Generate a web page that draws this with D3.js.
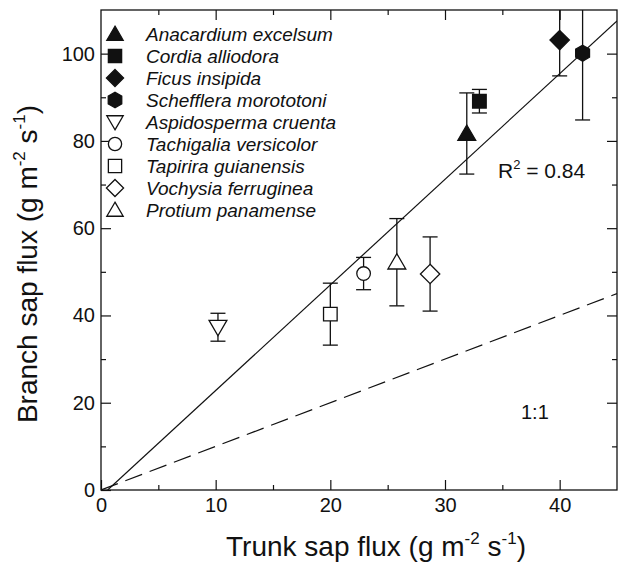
<!DOCTYPE html>
<html><head><meta charset="utf-8">
<script src="https://cdn.jsdelivr.net/npm/d3@7"></script>
<style>body{margin:0;background:#fff}svg{display:block}text{font-family:"Liberation Sans",Arial,sans-serif;fill:#111}</style>
</head><body>
<svg id="c" width="620" height="562"></svg>
<script>
const species = ["Anacardium excelsum","Cordia alliodora","Ficus insipida","Schefflera morototoni","Aspidosperma cruenta","Tachigalia versicolor","Tapirira guianensis","Vochysia ferruginea","Protium panamense"];
const shapes = ["triangle","square","diamond","hexagon","triangleDown","circle","square","diamond","triangle"];
const filled = [true,true,true,true,false,false,false,false,false];
const trunkFlux = [31.9,33.0,40.0,42.0,10.2,22.9,20.0,28.7,25.8];
const branchFlux = [81.7,89.1,103.1,100.1,37.3,49.6,40.3,49.5,52.2];
const branchErr = [9.3,2.7,8.2,15.3,3.2,3.7,7.1,8.5,10.0];
const xTicks = [0,10,20,30,40];
const yTicks = [0,20,40,60,80,100];
const fitSlope = 2.42, fitIntercept = -1.4;

const svg = d3.select("#c");
const L=101,R=617,T=10,B=490;
const x = d3.scaleLinear().domain([0,45]).range([L,R]);
const y = d3.scaleLinear().domain([0,110]).range([B,T]);

const defs = svg.append("defs");
defs.append("clipPath").attr("id","clip").append("rect").attr("x",L).attr("y",T).attr("width",R-L).attr("height",B-T);

function shapePath(s, r){
  if(s==="triangle") return `M0,${-r}L${r*1.05},${r*0.8}L${-r*1.05},${r*0.8}Z`;
  if(s==="triangleDown") return `M0,${r}L${r*1.05},${-r*0.8}L${-r*1.05},${-r*0.8}Z`;
  if(s==="square") return `M${-r*0.85},${-r*0.85}H${r*0.85}V${r*0.85}H${-r*0.85}Z`;
  if(s==="diamond") return `M0,${-r*1.1}L${r*1.1},0L0,${r*1.1}L${-r*1.1},0Z`;
  if(s==="circle") return d3.arc()({innerRadius:0,outerRadius:r*0.85,startAngle:0,endAngle:2*Math.PI});
  if(s==="hexagon"){ let p=[]; for(let i=0;i<6;i++){const a=Math.PI/2+i*Math.PI/3; p.push([Math.cos(a)*r*1.0, Math.sin(a)*r*1.0]);} return "M"+p.map(q=>q.join(",")).join("L")+"Z";}
}

// axes
const axG = svg.append("g").attr("class","axes");
function styleAxis(g){ g.select(".domain").remove(); g.selectAll("line").attr("stroke","#111").attr("stroke-width",1.2); g.selectAll("text").style("font-size","20px").attr("fill","#111"); }
axG.append("g").attr("transform",`translate(0,${B})`).call(d3.axisBottom(x).tickValues(xTicks).tickSize(-10).tickPadding(8).tickFormat(d3.format("d"))).call(styleAxis);
axG.append("g").attr("transform",`translate(0,${B})`).call(d3.axisBottom(x).tickValues([5,15,25,35]).tickSize(-5).tickFormat("")).call(styleAxis);
axG.append("g").attr("transform",`translate(0,${T})`).call(d3.axisTop(x).tickValues(xTicks.slice(1)).tickSize(-10).tickFormat("")).call(styleAxis);
axG.append("g").attr("transform",`translate(0,${T})`).call(d3.axisTop(x).tickValues([5,15,25,35]).tickSize(-5).tickFormat("")).call(styleAxis);
axG.append("g").attr("transform",`translate(${L},0)`).call(d3.axisLeft(y).tickValues(yTicks).tickSize(-10).tickPadding(6).tickFormat(d3.format("d"))).call(styleAxis);
axG.append("g").attr("transform",`translate(${L},0)`).call(d3.axisLeft(y).tickValues([10,30,50,70,90]).tickSize(-5).tickFormat("")).call(styleAxis);
axG.append("g").attr("transform",`translate(${R},0)`).call(d3.axisRight(y).tickValues(yTicks.slice(1)).tickSize(-10).tickFormat("")).call(styleAxis);
axG.append("g").attr("transform",`translate(${R},0)`).call(d3.axisRight(y).tickValues([10,30,50,70,90]).tickSize(-5).tickFormat("")).call(styleAxis);
svg.append("rect").attr("x",L).attr("y",T).attr("width",R-L).attr("height",B-T).attr("fill","none").attr("stroke","#111").attr("stroke-width",1.3);

// lines
const plot = svg.append("g").attr("clip-path","url(#clip)");
const x0 = -fitIntercept/fitSlope;
plot.append("line").attr("x1",x(x0)).attr("y1",y(0)).attr("x2",x(45)).attr("y2",y(fitSlope*45+fitIntercept)).attr("stroke","#111").attr("stroke-width",1.2);
plot.append("line").attr("x1",x(0)).attr("y1",y(0)).attr("x2",x(45)).attr("y2",y(45)).attr("stroke","#111").attr("stroke-width",1.2).attr("stroke-dasharray","18,8");

// error bars
const cap=7.5;
species.forEach((s,i)=>{
  const g = plot.append("g");
  const cx=x(trunkFlux[i]), y1=y(branchFlux[i]+branchErr[i]), y2=y(branchFlux[i]-branchErr[i]);
  g.append("line").attr("x1",cx).attr("x2",cx).attr("y1",y1).attr("y2",y2).attr("stroke","#111").attr("stroke-width",1.3);
  [y1,y2].forEach(yy=>g.append("line").attr("x1",cx-cap).attr("x2",cx+cap).attr("y1",yy).attr("y2",yy).attr("stroke","#111").attr("stroke-width",1.3));
});
species.forEach((s,i)=>{
  const r = shapes[i]==="diamond"?8.8:(shapes[i].startsWith("triangle")?8.5:8);
  plot.append("path").attr("d",shapePath(shapes[i],r)).attr("transform",`translate(${x(trunkFlux[i])},${y(branchFlux[i])})`)
    .attr("fill",filled[i]?"#111":"#fff").attr("stroke","#111").attr("stroke-width",1.3);
});

// legend
const lg = svg.append("g");
species.forEach((s,i)=>{
  const yy = 34 + i*22;
  lg.append("path").attr("d",shapePath(shapes[i],7.8)).attr("transform",`translate(115,${yy})`).attr("fill",filled[i]?"#111":"#fff").attr("stroke","#111").attr("stroke-width",1.3);
  lg.append("text").attr("x",146).attr("y",yy).attr("dy","0.36em").style("font-size","19px").style("font-style","italic").text(s);
});

// annotations
const r2 = svg.append("text").attr("x",498).attr("y",178).style("font-size","21px");
r2.append("tspan").text("R");
r2.append("tspan").attr("dy",-9).style("font-size","13px").text("2");
r2.append("tspan").attr("dy",9).text(" = 0.84");
svg.append("text").attr("x",521).attr("y",419).style("font-size","20px").text("1:1");

// axis titles
const xt = svg.append("text").attr("x",376).attr("y",556).attr("text-anchor","middle").style("font-size","28px");
xt.append("tspan").text("Trunk sap flux (g m");
xt.append("tspan").attr("dy",-12).style("font-size","17px").text("-2");
xt.append("tspan").attr("dy",12).text(" s");
xt.append("tspan").attr("dy",-12).style("font-size","17px").text("-1");
xt.append("tspan").attr("dy",12).text(")");
const yt = svg.append("text").attr("transform",`translate(37,264) rotate(-90)`).attr("text-anchor","middle").style("font-size","28px");
yt.append("tspan").text("Branch sap flux (g m");
yt.append("tspan").attr("dy",-12).style("font-size","17px").text("-2");
yt.append("tspan").attr("dy",12).text(" s");
yt.append("tspan").attr("dy",-12).style("font-size","17px").text("-1");
yt.append("tspan").attr("dy",12).text(")");
</script>
</body></html>
